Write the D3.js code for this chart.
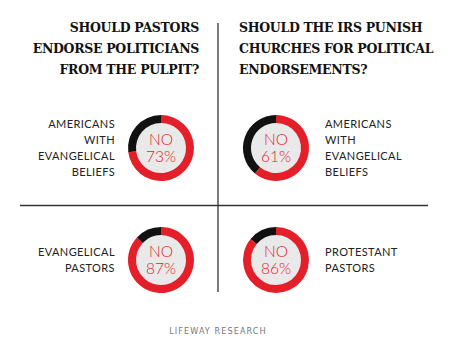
<!DOCTYPE html>
<html>
<head>
<meta charset="utf-8">
<script src="https://cdn.jsdelivr.net/npm/d3@7"></script>
<style>
  body { margin: 0; background: #fff; }
  svg { display: block; }
</style>
</head>
<body>
<div id="chart"></div>
<script>
// questions (column titles)
var questions = [
    ["SHOULD PASTORS", "ENDORSE POLITICIANS", "FROM THE PULPIT?"],
    ["SHOULD THE IRS PUNISH", "CHURCHES FOR POLITICAL", "ENDORSEMENTS?"]
];
// groups asked, in order: top-left, top-right, bottom-left, bottom-right
var groups = [
    ["AMERICANS", "WITH", "EVANGELICAL", "BELIEFS"],
    ["AMERICANS", "WITH", "EVANGELICAL", "BELIEFS"],
    ["EVANGELICAL", "PASTORS"],
    ["PROTESTANT", "PASTORS"]
];
var noValues = [73, 61, 87, 86];
var answerLabel = "NO";
var source = "LIFEWAY RESEARCH";

var width = 450, height = 351;

var svg = d3.select("#chart")
    .append("svg")
    .attr("width", width)
    .attr("height", height);

// grid lines
svg.append("line")
    .attr("x1", 218).attr("x2", 218)
    .attr("y1", 23).attr("y2", 292)
    .attr("stroke", "#333").attr("stroke-width", 1.3);
svg.append("line")
    .attr("x1", 20).attr("x2", 428)
    .attr("y1", 205.5).attr("y2", 205.5)
    .attr("stroke", "#333").attr("stroke-width", 1.3);

// titles
var titleFont = "'DejaVu Serif', serif";
questions.forEach(function(lines, i) {
    var t = svg.append("text")
        .attr("font-family", titleFont)
        .attr("font-weight", "bold")
        .attr("font-size", 12.5)
        .attr("fill", "#111")
        .attr("text-anchor", i === 0 ? "end" : "start");
    t.selectAll("tspan")
        .data(lines)
        .enter()
        .append("tspan")
        .attr("x", i === 0 ? 199 : 239)
        .attr("y", function(d, j) { return 32 + j * 21; })
        .attr("letter-spacing", -0.3)
        .text(function(d) { return d; });
});

// donuts
var centers = [[161, 148], [276, 148], [161, 260], [276, 260]];
var pie = d3.pie().sort(null).value(function(d) { return d; });
var arc = d3.arc().innerRadius(25).outerRadius(33);
var colors = ["#e3202a", "#111"];

noValues.forEach(function(v, i) {
    var g = svg.append("g")
        .attr("transform", "translate(" + centers[i][0] + "," + centers[i][1] + ")");

    g.append("circle").attr("r", 25).attr("fill", "#e9e9e9");

    g.selectAll("path")
        .data(pie([v, 100 - v]))
        .enter()
        .append("path")
        .attr("d", arc)
        .attr("fill", function(d, j) { return colors[j]; });

    g.append("text")
        .attr("text-anchor", "middle")
        .attr("font-family", "Lato, sans-serif")
        .attr("font-weight", 300)
        .attr("font-size", 15.5)
        .attr("fill", "#e3202a")
        .attr("y", -3)
        .text(answerLabel);
    g.append("text")
        .attr("text-anchor", "middle")
        .attr("font-family", "Lato, sans-serif")
        .attr("font-weight", 300)
        .attr("font-size", 15.5)
        .attr("fill", "#e3202a")
        .attr("y", 13.5)
        .text(v + "%");

    // group label, left column right aligned, right column left aligned
    var left = i % 2 === 0;
    var lines = groups[i];
    var y0 = centers[i][1] - (lines.length - 1) * 15.7 / 2 + 4;
    var t = svg.append("text")
        .attr("font-family", "Lato, sans-serif")
        .attr("font-size", 11)
        .attr("letter-spacing", 0.4)
        .attr("fill", "#222")
        .attr("text-anchor", left ? "end" : "start");
    t.selectAll("tspan")
        .data(lines)
        .enter()
        .append("tspan")
        .attr("x", left ? 115 : 325)
        .attr("y", function(d, j) { return y0 + j * 15.7; })
        .text(function(d) { return d; });
});

// source
svg.append("text")
    .attr("x", 218)
    .attr("y", 334)
    .attr("text-anchor", "middle")
    .attr("font-family", "'DejaVu Sans Condensed', sans-serif")
    .attr("font-size", 9)
    .attr("letter-spacing", 1.1)
    .attr("fill", "#777")
    .text(source);
</script>
</body>
</html>
